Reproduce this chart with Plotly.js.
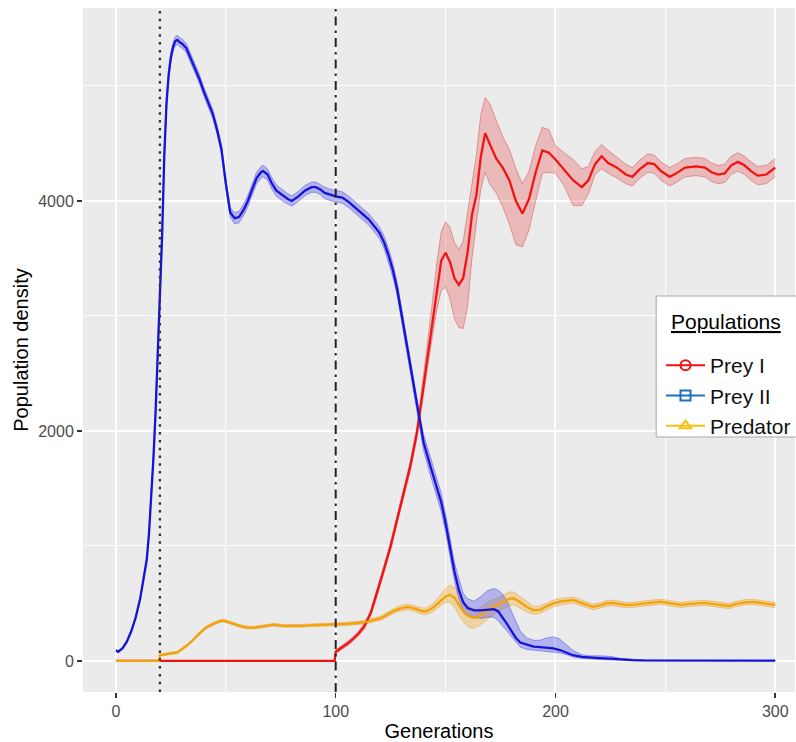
<!DOCTYPE html>
<html>
<head>
<meta charset="utf-8">
<script src="https://cdn.plot.ly/plotly-3.0.1.min.js"></script>
<style>
  html, body { margin: 0; padding: 0; background: #ffffff; }
  #chart { width: 796px; height: 742px; }
</style>
</head>
<body>
<div id="chart"></div>
<script>
// Prey I: mean population density with lower / upper band, by generation
const preyIGen  = [0, 99.5, 100, 103, 106, 110, 113, 116, 119, 122, 125, 128, 131, 134, 137, 140, 143, 146, 148, 150, 152, 154, 156, 158, 160, 162, 164, 166, 168, 170, 173, 176, 179, 182, 185, 188, 191, 194, 197, 200, 204, 208, 212, 215, 218, 221, 224, 228, 232, 235, 238, 242, 245, 248, 252, 255, 259, 264, 268, 271, 274, 277, 280, 283, 286, 289, 292, 296, 300];
const preyIMean = [0, 0, 80, 120, 160, 230, 300, 420, 600, 800, 1000, 1240, 1470, 1700, 1990, 2400, 2820, 3250, 3480, 3550, 3470, 3330, 3270, 3330, 3550, 3880, 4050, 4380, 4590, 4500, 4370, 4290, 4180, 4000, 3890, 4020, 4250, 4440, 4420, 4360, 4270, 4180, 4120, 4180, 4320, 4390, 4330, 4290, 4230, 4210, 4270, 4330, 4320, 4260, 4210, 4240, 4290, 4300, 4290, 4250, 4230, 4240, 4310, 4340, 4310, 4260, 4220, 4230, 4290];
const preyILo   = [0, 0, 65, 100, 140, 210, 275, 395, 570, 770, 965, 1200, 1430, 1655, 1940, 2330, 2700, 3050, 3220, 3250, 3150, 2980, 2900, 2890, 3080, 3500, 3800, 4100, 4250, 4150, 4070, 3950, 3800, 3620, 3600, 3750, 4000, 4240, 4250, 4240, 4130, 3960, 3960, 4060, 4230, 4280, 4240, 4200, 4150, 4130, 4190, 4250, 4240, 4180, 4130, 4160, 4210, 4220, 4210, 4170, 4150, 4160, 4230, 4260, 4230, 4180, 4140, 4150, 4210];
const preyIHi   = [0, 0, 95, 140, 180, 250, 325, 445, 630, 830, 1035, 1280, 1510, 1745, 2040, 2480, 2960, 3460, 3730, 3820, 3770, 3640, 3580, 3650, 3900, 4150, 4400, 4750, 4900, 4850, 4700, 4560, 4450, 4280, 4150, 4260, 4480, 4640, 4620, 4480, 4420, 4360, 4280, 4300, 4430, 4490, 4440, 4380, 4320, 4290, 4350, 4410, 4400, 4340, 4290, 4320, 4370, 4380, 4370, 4330, 4310, 4320, 4390, 4420, 4390, 4340, 4300, 4310, 4370];

// Prey II
const preyIIGen  = [0, 1, 3, 5, 7, 9, 11, 13, 14, 15, 16, 17, 18, 19, 20, 21, 22, 23, 24, 25, 26, 27, 28, 29, 30, 32, 34, 36, 38, 40, 42, 44, 46, 48, 50, 51, 52, 54, 56, 58, 60, 62, 64, 66, 67, 69, 71, 73, 75, 78, 80, 83, 86, 89, 91, 93, 95, 98, 100, 103, 106, 109, 112, 115, 118, 120, 122, 124, 126, 128, 130, 132, 134, 136, 138, 140, 143, 146, 148, 150, 152, 154, 156, 158, 160, 163, 166, 169, 172, 174, 176, 178, 180, 182, 184, 187, 190, 193, 196, 199, 202, 205, 208, 212, 216, 220, 225, 230, 235, 240, 260, 300];
const preyIIMean = [90, 80, 110, 170, 260, 380, 540, 760, 880, 1100, 1400, 1750, 2150, 2650, 3100, 3700, 4400, 4850, 5100, 5250, 5340, 5390, 5400, 5380, 5370, 5330, 5240, 5150, 5060, 4950, 4850, 4760, 4620, 4450, 4150, 4000, 3900, 3850, 3860, 3920, 4000, 4100, 4200, 4250, 4260, 4230, 4150, 4090, 4060, 4020, 4000, 4040, 4090, 4120, 4120, 4100, 4070, 4050, 4040, 4030, 3990, 3940, 3890, 3840, 3770, 3720, 3640, 3530, 3400, 3230, 3010, 2780, 2560, 2340, 2100, 1900, 1700, 1520, 1380, 1200, 980, 780, 620, 510, 460, 440, 440, 445, 450, 430, 380, 320, 260, 200, 160, 140, 125, 120, 115, 110, 95, 75, 50, 35, 28, 25, 20, 12, 8, 5, 3, 2];
const preyIILo   = [80, 70, 100, 160, 250, 370, 525, 740, 860, 1080, 1370, 1710, 2100, 2600, 3050, 3650, 4350, 4800, 5060, 5210, 5300, 5350, 5360, 5340, 5330, 5290, 5200, 5110, 5020, 4910, 4810, 4720, 4580, 4410, 4110, 3960, 3860, 3800, 3810, 3870, 3950, 4050, 4150, 4200, 4210, 4180, 4100, 4040, 4010, 3975, 3955, 3995, 4045, 4075, 4075, 4055, 4020, 4000, 3990, 3980, 3940, 3890, 3840, 3790, 3720, 3670, 3585, 3470, 3340, 3170, 2950, 2720, 2500, 2280, 2040, 1830, 1620, 1440, 1300, 1120, 900, 700, 540, 440, 400, 380, 370, 380, 380, 350, 300, 260, 210, 160, 120, 100, 95, 90, 85, 80, 70, 55, 35, 22, 15, 12, 8, 5, 3, 2, 1, 1];
const preyIIHi   = [100, 90, 120, 180, 270, 390, 555, 780, 900, 1120, 1430, 1790, 2200, 2700, 3150, 3750, 4450, 4900, 5140, 5290, 5380, 5430, 5440, 5420, 5410, 5370, 5280, 5190, 5100, 4990, 4890, 4800, 4660, 4490, 4190, 4040, 3940, 3900, 3910, 3970, 4050, 4150, 4250, 4300, 4310, 4280, 4200, 4140, 4110, 4065, 4045, 4085, 4135, 4165, 4165, 4145, 4120, 4100, 4090, 4080, 4040, 3990, 3940, 3890, 3820, 3770, 3695, 3590, 3460, 3290, 3070, 2840, 2620, 2400, 2160, 1970, 1780, 1600, 1460, 1280, 1060, 860, 720, 590, 540, 520, 560, 610, 630, 615, 580, 520, 430, 340, 260, 200, 180, 180, 200, 210, 190, 140, 90, 55, 45, 45, 40, 22, 14, 8, 5, 3];

// Predator
const predGen  = [0, 19.8, 20, 24, 28, 32, 35, 38, 41, 44, 47, 49, 51, 54, 57, 60, 63, 66, 69, 72, 76, 80, 84, 88, 92, 96, 100, 105, 110, 114, 118, 121, 124, 127, 130, 133, 136, 139, 141, 144, 147, 150, 152, 154, 156, 158, 160, 162, 164, 167, 170, 173, 176, 179, 181, 184, 187, 190, 193, 196, 199, 202, 205, 208, 211, 214, 217, 220, 223, 226, 229, 232, 236, 240, 244, 248, 251, 254, 257, 260, 264, 268, 272, 276, 279, 282, 286, 290, 294, 297, 300];
const predMean = [0, 0, 50, 60, 75, 130, 180, 240, 290, 320, 345, 350, 340, 320, 300, 290, 290, 300, 310, 315, 305, 303, 305, 310, 313, 315, 315, 322, 330, 340, 360, 375, 410, 440, 460, 470, 455, 435, 430, 460, 510, 560, 575, 550, 490, 430, 395, 378, 375, 410, 455, 480, 510, 540, 545, 510, 470, 440, 445, 475, 500, 515, 525, 530, 510, 490, 470, 480, 500, 505, 495, 485, 490, 500, 505, 515, 505, 495, 487, 495, 500, 505, 495, 485, 478, 495, 510, 513, 500, 492, 487];
const predLo   = [0, 0, 40, 50, 65, 120, 170, 228, 278, 308, 333, 338, 328, 308, 288, 278, 278, 288, 298, 303, 293, 291, 293, 298, 300, 302, 302, 308, 315, 325, 343, 356, 390, 418, 436, 445, 430, 408, 402, 425, 470, 510, 510, 470, 400, 340, 300, 285, 290, 330, 380, 420, 450, 480, 490, 460, 425, 405, 412, 443, 470, 487, 497, 503, 484, 465, 446, 456, 476, 481, 472, 462, 467, 477, 482, 492, 482, 472, 464, 472, 477, 482, 472, 462, 455, 472, 487, 490, 477, 469, 464];
const predHi   = [0, 0, 60, 70, 85, 140, 190, 252, 302, 332, 357, 362, 352, 332, 312, 302, 302, 312, 322, 327, 317, 315, 317, 322, 326, 328, 328, 336, 345, 355, 377, 394, 430, 462, 484, 495, 480, 462, 458, 495, 560, 630, 660, 640, 590, 520, 480, 460, 440, 480, 520, 540, 570, 600, 600, 560, 515, 475, 478, 507, 530, 543, 553, 557, 536, 515, 494, 504, 524, 529, 518, 508, 513, 523, 528, 538, 528, 518, 510, 518, 523, 528, 518, 508, 501, 518, 533, 536, 523, 515, 510];

// Generations at which the predator and prey I enter the system
const predatorIntro = 20;
const preyIIntro = 100;

// Axis ticks
const xTicks = [0, 100, 200, 300];
const yTicks = [0, 2000, 4000];

const series = [
  { name: 'Prey I',   gen: preyIGen,  mean: preyIMean,  lo: preyILo,  hi: preyIHi,
    line: '#f01414', band: 'rgba(230,40,40,0.25)', edge: 'rgba(200,40,40,0.55)',
    legendColor: '#ee1111', symbol: 'circle-open' },
  { name: 'Predator', gen: predGen,   mean: predMean,   lo: predLo,   hi: predHi,
    line: '#f4a20c', band: 'rgba(245,170,30,0.35)', edge: 'rgba(230,150,20,0.6)',
    legendColor: '#f5c010', symbol: 'triangle-up-open' },
  { name: 'Prey II',  gen: preyIIGen, mean: preyIIMean, lo: preyIILo, hi: preyIIHi,
    line: '#1414d8', band: 'rgba(60,60,240,0.32)', edge: 'rgba(40,40,220,0.55)',
    legendColor: '#1f6fc0', symbol: 'square-open' }
];

const traces = [];
// confidence ribbons
series.forEach(s => {
  traces.push({ x: s.gen, y: s.lo, mode: 'lines', line: { color: s.edge, width: 0.7 },
    showlegend: false, hoverinfo: 'skip' });
  traces.push({ x: s.gen, y: s.hi, mode: 'lines', fill: 'tonexty', fillcolor: s.band,
    line: { color: s.edge, width: 0.7 }, showlegend: false, hoverinfo: 'skip' });
});
// mean trajectories
series.forEach(s => {
  traces.push({ x: s.gen, y: s.mean, mode: 'lines', name: s.name,
    line: { color: s.line, width: 2.3, shape: 'linear' }, showlegend: false });
});
// legend keys
['Prey I', 'Prey II', 'Predator'].forEach(n => {
  const s = series.find(d => d.name === n);
  traces.push({ x: [null], y: [null], mode: 'lines+markers', name: n, legendgroup: n,
    line: { color: s.legendColor, width: 2 },
    marker: { symbol: s.symbol, size: 10, color: s.legendColor, line: { width: 2, color: s.legendColor } } });
});

// pixel helpers for the legend frame (plot area: x 83..796, y 8..692)
const px = v => (v - 83) / 713;
const py = v => (692 - v) / 684;

const layout = {
  width: 796, height: 742,
  margin: { l: 83, r: 0, t: 8, b: 50 },
  paper_bgcolor: '#ffffff',
  plot_bgcolor: '#ebebeb',
  font: { family: 'Liberation Sans, Arial, sans-serif', color: '#000000' },
  xaxis: {
    range: [-15, 309], tickvals: xTicks, ticktext: xTicks.map(String),
    showgrid: true, gridcolor: '#ffffff', gridwidth: 2,
    minor: { dtick: 50, tick0: 0, showgrid: true, gridcolor: '#ffffff', gridwidth: 0.9 },
    zeroline: false, showline: false,
    ticks: 'outside', ticklen: 5, tickwidth: 1.5, tickcolor: '#333333',
    tickfont: { size: 16, color: '#4d4d4d' },
    title: { text: 'Generations', font: { size: 20, color: '#000000' }, standoff: 10 }
  },
  yaxis: {
    range: [-270, 5678], tickvals: yTicks, ticktext: yTicks.map(String),
    showgrid: true, gridcolor: '#ffffff', gridwidth: 2,
    minor: { dtick: 1000, tick0: 0, showgrid: true, gridcolor: '#ffffff', gridwidth: 0.9 },
    zeroline: false, showline: false,
    ticks: 'outside', ticklen: 5, tickwidth: 1.5, tickcolor: '#333333',
    tickfont: { size: 16, color: '#4d4d4d' },
    title: { text: 'Population density', font: { size: 20, color: '#000000' }, standoff: 4 }
  },
  shapes: [
    { type: 'line', xref: 'x', yref: 'paper', x0: predatorIntro, x1: predatorIntro, y0: 0, y1: 1,
      line: { color: '#333333', width: 2.3, dash: '2.5px,5.3px' } },
    { type: 'line', xref: 'x', yref: 'paper', x0: preyIIntro, x1: preyIIntro, y0: 0, y1: 1,
      line: { color: '#222222', width: 2, dash: '9px,5px,2.5px,5px' } },
    // legend frame
    { type: 'rect', xref: 'paper', yref: 'paper', x0: px(657), x1: px(830), y0: py(437), y1: py(296),
      fillcolor: '#ffffff', line: { color: '#a8a8a8', width: 1 }, layer: 'above' }
  ],
  annotations: [
    { xref: 'paper', yref: 'paper', x: px(670), y: py(321), xanchor: 'left', yanchor: 'middle',
      showarrow: false, text: '<span style="text-decoration:underline">Populations</span>',
      font: { size: 21, color: '#000000' } }
  ],
  legend: {
    x: px(662), y: py(345), xanchor: 'left', yanchor: 'top',
    bgcolor: 'rgba(0,0,0,0)', borderwidth: 0,
    font: { size: 21, color: '#111111' },
    itemwidth: 39, tracegroupgap: 2, traceorder: 'normal'
  },
  showlegend: true
};

Plotly.newPlot('chart', traces, layout, { displayModeBar: false, staticPlot: true });
</script>
</body>
</html>
